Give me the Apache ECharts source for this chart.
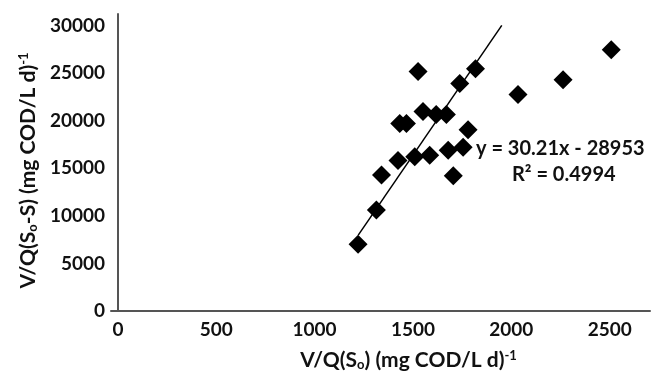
<!DOCTYPE html>
<html>
<head>
<meta charset="utf-8">
<script src="https://cdn.jsdelivr.net/npm/echarts@6/dist/echarts.min.js"></script>
<style>
  html, body { margin: 0; padding: 0; background: #fff; }
  #chart { width: 656px; height: 378px; }
</style>
</head>
<body>
<div id="chart"></div>
<script>
// measured points, V/Q(So) vs V/Q(So-S)
const xValues = [1221, 1314, 1340, 1424, 1433, 1467, 1509, 1526, 1551, 1585, 1618,
  1670, 1679, 1705, 1738, 1755, 1780, 1818, 2034, 2263, 2508];
const yValues = [7000, 10600, 14300, 15800, 19700, 19700, 16200, 25150, 20950, 16350, 20650,
  20650, 16900, 14200, 23900, 17200, 19050, 25450, 22750, 24300, 27450];

// linear trend (Excel trendline)
const trendSlope = 30.21;
const trendIntercept = -28953;
const trendXRange = [1222, 1951.5];
const trendLabel = ['y = 30.21x - 28953', 'R² = 0.4994'];

const xTicks = [0, 500, 1000, 1500, 2000, 2500];
const yTicks = [0, 5000, 10000, 15000, 20000, 25000, 30000];

const points = xValues.map((x, i) => [x, yValues[i]]);
const trendPoints = trendXRange.map(x => [x, trendSlope * x + trendIntercept]);

const font = 'Lato, "Open Sans", sans-serif';
const chart = echarts.init(document.getElementById('chart'));

const subRich = {
  n: { fontSize: 21, fontFamily: font, fontWeight: 'bold', color: '#111' },
  sub: { fontSize: 13, fontFamily: font, fontWeight: 'bold', color: '#111', verticalAlign: 'bottom', padding: [9, 0, 0, 0] },
  sup: { fontSize: 13, fontFamily: font, fontWeight: 'bold', color: '#111', verticalAlign: 'top', padding: [0, 0, 9, 0] }
};

chart.setOption({
  animation: false,
  grid: { left: 111, right: 6, top: 14, bottom: 67, outerBoundsMode: 'none' },
  xAxis: {
    type: 'value',
    min: -35,
    max: 2705,
    splitLine: { show: false },
    axisLine: { show: true, lineStyle: { color: '#555', width: 2 } },
    axisTick: { show: false },
    axisLabel: {
      customValues: xTicks,
      formatter: v => String(v),
      margin: 9,
      fontSize: 19,
      fontFamily: font,
      fontWeight: 'bold',
      color: '#111'
    },
    name: '{n|V/Q(S}{sub|o}{n|) (mg COD/L d)}{sup|-1}',
    nameLocation: 'middle',
    nameGap: 38,
    nameTextStyle: { rich: subRich, padding: [0, 0, 0, 56] }
  },
  yAxis: {
    type: 'value',
    min: 0,
    max: 31200,
    splitLine: { show: false },
    axisLine: { show: true, lineStyle: { color: '#555', width: 2 } },
    axisTick: { show: false },
    axisLabel: {
      customValues: yTicks,
      formatter: v => String(v),
      margin: 6,
      fontSize: 19,
      fontFamily: font,
      fontWeight: 'bold',
      color: '#111'
    },
    name: '{n|V/Q(S}{sub|o}{n|-S) (mg COD/L d)}{sup|-1}',
    nameLocation: 'middle',
    nameRotate: 90,
    nameGap: 72,
    nameTextStyle: { rich: subRich, padding: [0, 16, 0, 0] }
  },
  series: [
    {
      type: 'scatter',
      data: points,
      symbol: 'diamond',
      symbolSize: [19, 19],
      itemStyle: { color: '#000', opacity: 1 },
      z: 3
    },
    {
      type: 'line',
      data: trendPoints,
      symbol: 'none',
      lineStyle: { color: '#000', width: 1.5 },
      z: 2
    }
  ],
  graphic: [
    {
      type: 'text',
      left: 476,
      top: 139,
      style: {
        text: trendLabel[0],
        font: 'bold 20px ' + font,
        fill: '#111'
      }
    },
    {
      type: 'text',
      left: 512,
      top: 165,
      style: {
        text: trendLabel[1],
        font: 'bold 20px ' + font,
        fill: '#111'
      }
    }
  ]
});
</script>
</body>
</html>
